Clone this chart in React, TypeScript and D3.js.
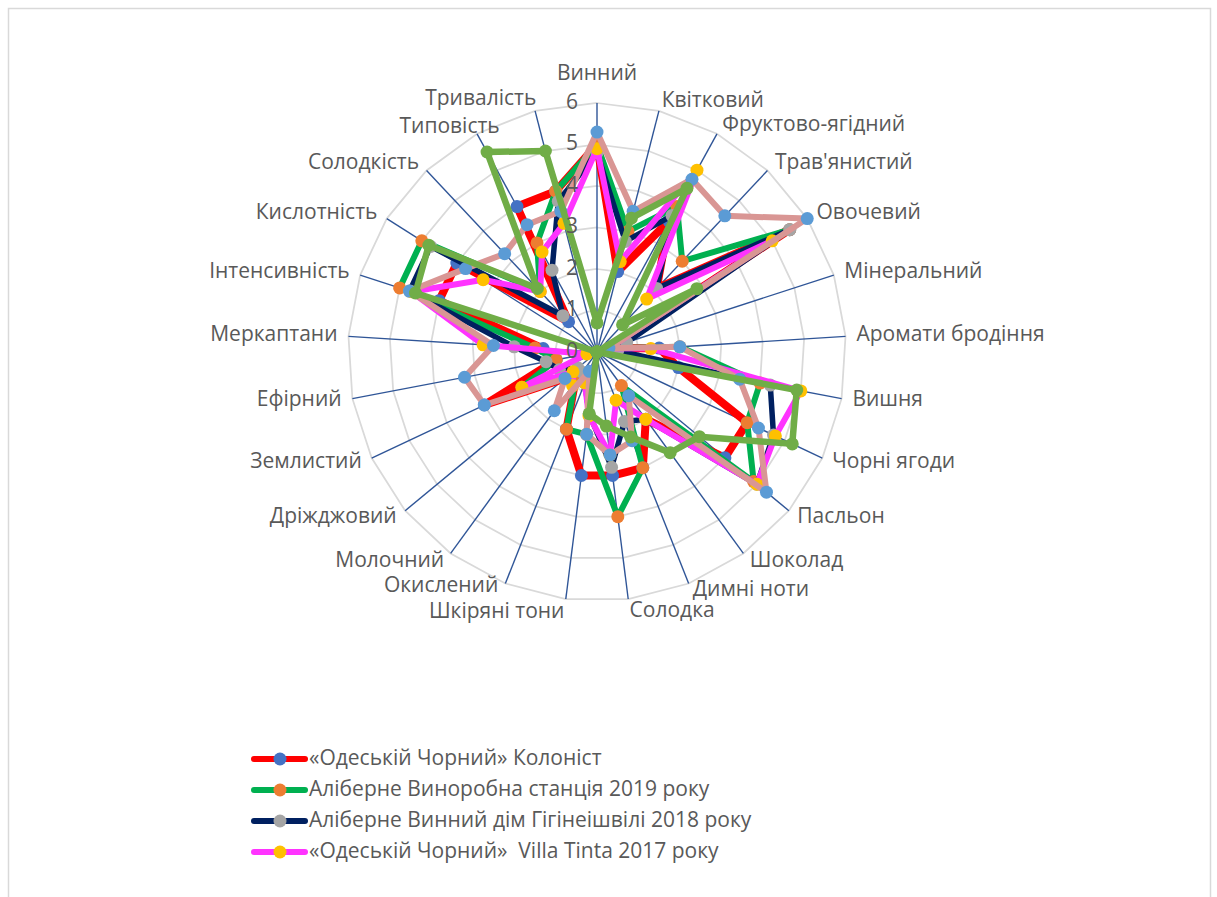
import React from "react";
import * as d3 from "d3";

// Sensory descriptors, clockwise from the top
const categories = [
  "Винний", "Квітковий", "Фруктово-ягідний", "Трав'янистий", "Овочевий",
  "Мінеральний", "Аромати бродіння", "Вишня", "Чорні ягоди", "Пасльон",
  "Шоколад", "Димні ноти", "Солодка", "Шкіряні тони", "Окислений",
  "Молочний", "Дріжджовий", "Землистий", "Ефірний", "Меркаптани",
  "Інтенсивність", "Кислотність", "Солодкість", "Типовість", "Тривалість",
];

const ticks = [0, 1, 2, 3, 4, 5, 6];

const koloinst = [5.0, 2.0, 3.6, 2.1, 5.5, 0.3, 1.5, 2.0, 4.0, 4.0, 2.0, 3.0, 3.0, 3.0, 2.0, 0.9, 1.0, 3.0, 1.0, 1.3, 4.0, 4.0, 1.0, 4.0, 4.0];
const alibernStation = [5.0, 3.0, 4.0, 3.0, 5.5, 0.3, 2.0, 4.0, 4.0, 4.9, 1.0, 3.0, 4.0, 2.0, 2.0, 0.9, 1.0, 2.0, 1.0, 1.5, 5.0, 5.0, 2.0, 3.0, 4.0];
const alibernHigineishvili = [4.8, 2.75, 3.75, 2.1, 5.5, 0.75, 0.5, 4.25, 4.7, 5.0, 2.0, 1.8, 2.8, 1.5, 0.8, 0.6, 0.6, 1.0, 1.25, 2.0, 4.75, 4.75, 1.2, 2.25, 3.75];
const villaTinta = [4.9, 2.25, 5.0, 1.75, 5.0, 0.3, 1.3, 5.0, 4.75, 5.0, 2.0, 1.25, 2.5, 1.55, 0.8, 1.0, 0.75, 2.0, 0.25, 2.75, 4.7, 3.25, 2.0, 2.75, 3.2];
const sampleFive = [5.3, 3.5, 4.75, 4.5, 6.0, 0.3, 2.0, 3.5, 4.3, 5.3, 1.3, 2.3, 2.5, 2.0, 0.5, 1.75, 1.0, 3.0, 3.25, 2.5, 4.75, 3.75, 3.25, 3.5, 3.5];
const sampleSix = [0.7, 3.33, 4.5, 0.9, 2.85, 0, 0, 4.9, 5.2, 3.2, 3.0, 2.2, 1.8, 1.5, 0, 0, 0, 0, 0, 0, 4.6, 4.8, 2.1, 5.5, 5.0];

const seriesNames = [
  "«Одеській Чорний» Колоніст",
  "Аліберне Виноробна станція 2019 року",
  "Аліберне Винний дім Гігінеішвілі 2018 року",
  "«Одеській Чорний»  Villa Tinta 2017 року",
  "Зразок 5",
  "Зразок 6",
];
const seriesValues = [koloinst, alibernStation, alibernHigineishvili, villaTinta, sampleFive, sampleSix];
const lineColors = ["#FF0000", "#00B050", "#002060", "#FF33FF", "#D99694", "#70AD47"];
const markerColors = ["#4472C4", "#ED7D31", "#A5A5A5", "#FFC000", "#5B9BD5", "#70AD47"];
const lineWidths = [8, 6, 5.5, 6, 6, 6.5];
const legendCount = 4;

const W = 1217;
const H = 897;
const cx = 597;
const cy = 352;
const R = 249;
const FONT = "'Open Sans', 'Noto Sans', sans-serif";
const TEXT = "#595959";
const FS = 21;

export default function App() {
  const n = categories.length;
  const angle = d3.scaleLinear().domain([0, n]).range([0, 2 * Math.PI]);
  const r = d3.scaleLinear().domain([0, 6]).range([0, R]);

  const pt = (i: number, v: number): [number, number] => {
    const a = angle(i);
    return [cx + r(v) * Math.sin(a), cy - r(v) * Math.cos(a)];
  };

  const idx = d3.range(n);

  const radial = d3
    .lineRadial<number>()
    .angle((_, i) => angle(i))
    .radius((v) => r(v))
    .curve(d3.curveLinearClosed);

  // label placement just outside the outer ring, with small shifts where neighbours crowd
  const labelNudgeX: Record<number, number> = { 23: 28, 24: 4, 14: -3 };
  const labelNudgeY: Record<number, number> = { 14: -6, 13: 3, 11: -2, 12: 2, 24: -2, 23: 2 };
  const labels = categories.map((c, i) => {
    const a = angle(i);
    const s = Math.sin(a);
    const co = Math.cos(a);
    const [ex, ey] = pt(i, 6);
    let anchor = "middle";
    if (s > 0.01) anchor = "start";
    else if (s < -0.01) anchor = "end";
    const x = ex + 11 * s + (labelNudgeX[i] || 0);
    let y = ey - 10 * co + (labelNudgeY[i] || 0);
    if (i === 0) y = ey - 29;
    return { c, x, y, anchor };
  });

  return (
    <svg
      width={W}
      height={H}
      style={{ position: "absolute", left: 0, top: 0, background: "#fff" }}
      fontFamily={FONT}
    >
      <rect x={8.5} y={8.5} width={1202} height={H + 20} fill="#fff" stroke="#D9D9D9" strokeWidth={1.5} />

      {/* concentric grid */}
      {ticks.slice(1).map((t) => (
        <path
          key={"g" + t}
          d={
            d3
              .line<number>()
              .x((i) => pt(i, t)[0])
              .y((i) => pt(i, t)[1])
              .curve(d3.curveLinearClosed)(idx) || ""
          }
          fill="none"
          stroke="#D9D9D9"
          strokeWidth={1.75}
        />
      ))}

      {/* spokes */}
      {idx.map((i) => {
        const [x, y] = pt(i, 6);
        return <line key={"s" + i} x1={cx} y1={cy} x2={x} y2={y} stroke="#2F5597" strokeWidth={1.4} />;
      })}

      {/* series */}
      {seriesValues.map((vals, s) => (
        <g key={"ser" + s}>
          <path
            d={radial(vals) || ""}
            transform={`translate(${cx},${cy})`}
            fill="none"
            stroke={lineColors[s]}
            strokeWidth={lineWidths[s]}
            strokeLinejoin="round"
          />
          {vals.map((v, i) => {
            const [x, y] = pt(i, v);
            return <circle key={i} cx={x} cy={y} r={6.5} fill={markerColors[s]} />;
          })}
        </g>
      ))}

      {/* tick labels */}
      {ticks.map((t) => (
        <text
          key={"t" + t}
          x={578}
          y={cy - r(t)}
          textAnchor="end"
          dominantBaseline="middle"
          fontSize={FS}
          fill={TEXT}
        >
          {t}
        </text>
      ))}

      {/* category labels */}
      {labels.map((l, i) => (
        <text
          key={"l" + i}
          x={l.x}
          y={l.y}
          textAnchor={l.anchor}
          dominantBaseline="middle"
          fontSize={FS}
          fill={TEXT}
        >
          {l.c}
        </text>
      ))}

      {/* legend */}
      {seriesNames.slice(0, legendCount).map((name, s) => {
        const y = 759 + s * 31;
        return (
          <g key={"lg" + s}>
            <line x1={254} x2={305} y1={y} y2={y} stroke={lineColors[s]} strokeWidth={6} strokeLinecap="round" />
            <circle cx={280} cy={y} r={6.5} fill={markerColors[s]} />
            <text x={309} y={y} dominantBaseline="middle" fontSize={FS} fill={TEXT} style={{ whiteSpace: "pre" }}>
              {name}
            </text>
          </g>
        );
      })}
    </svg>
  );
}
